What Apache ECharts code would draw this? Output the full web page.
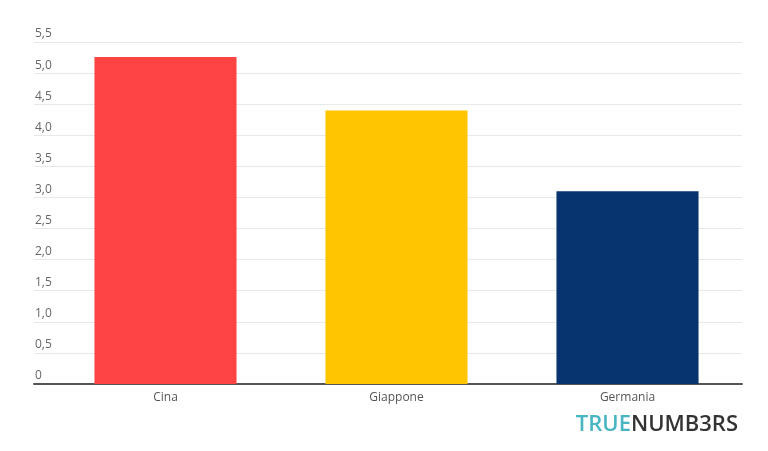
<!DOCTYPE html>
<html><head><meta charset="utf-8">
<script src="https://cdn.jsdelivr.net/npm/echarts@6/dist/echarts.min.js"></script>
<style>html,body{margin:0;padding:0;background:#fff}#c{width:768px;height:451px}</style>
</head><body><div id="c"></div>
<script>
const categories = ['Cina', 'Giappone', 'Germania'];
const values = [5.26, 4.40, 3.10];
const barColors = ['#fe4343', '#ffc600', '#07346e'];
const yMin = 0, yMax = 5.5, yStep = 0.5;

const chart = echarts.init(document.getElementById('c'));
const fmt = v => v === 0 ? '0' : v.toFixed(1).replace('.', ',');
chart.setOption({
  animation: false,
  backgroundColor: '#fff',
  grid: [
    {left: 34, right: 26, top: 42, bottom: 67},
    {left: 50, right: 25, top: 42, bottom: 67}
  ],
  xAxis: [
    {type: 'category', gridIndex: 0, data: categories, axisLine: {lineStyle: {color: '#555', width: 2}},
     axisTick: {show: false}, axisLabel: {show: false}},
    {type: 'category', gridIndex: 1, data: categories, axisLine: {show: false}, axisTick: {show: false},
     axisLabel: {color: '#555', fontSize: 12, fontFamily: 'Open Sans', margin: 8}}
  ],
  yAxis: [
    {type: 'value', gridIndex: 0, min: yMin, max: yMax, interval: yStep,
     axisLine: {show: false}, axisTick: {show: false},
     splitLine: {lineStyle: {color: '#e8e8e8', width: 1}},
     axisLabel: {inside: true, formatter: fmt, color: '#666', fontSize: 12, fontFamily: 'Open Sans',
                 verticalAlign: 'bottom', align: 'left', margin: 1, padding: [0, 0, 2, 0]}},
    {type: 'value', gridIndex: 1, min: yMin, max: yMax, interval: yStep, show: false}
  ],
  series: [{
    type: 'bar', xAxisIndex: 1, yAxisIndex: 1, barCategoryGap: '38.5%',
    data: values.map((v, i) => ({value: v, itemStyle: {color: barColors[i]}}))
  }],
  graphic: [{
    type: 'text', right: 30, top: 414,
    style: {
      rich: {
        a: {fill: '#47b5c2', fontSize: 22, fontFamily: 'Open Sans', fontWeight: 600},
        b: {fill: '#333', fontSize: 22, fontFamily: 'Open Sans', fontWeight: 600}
      },
      text: '{a|TRUE}{b|NUMB3RS}'
    }
  }]
});
</script></body></html>
